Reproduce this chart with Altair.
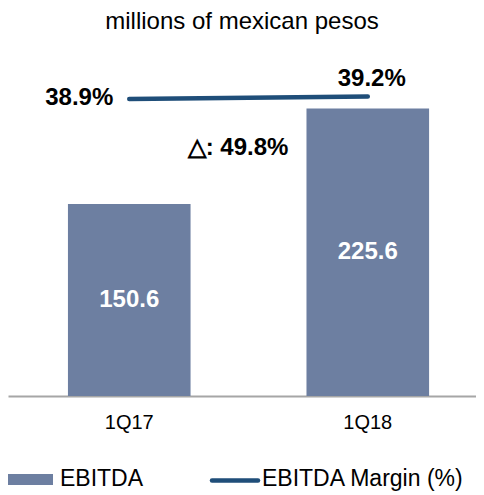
import altair as alt
import pandas as pd

quarters = ["1Q17", "1Q18"]
ebitda = [150.6, 225.6]
ebitda_labels = ["150.6", "225.6"]
margin = [38.9, 39.2]
margin_labels = ["38.9%", "39.2%"]
growth_label = "△: 49.8%"
growth_pos = [195]
legend_names = ["EBITDA", "EBITDA Margin (%)"]
title_text = "millions of mexican pesos"

BAR = "#6d7fa1"
LINE = "#1f4e79"
FONT = "Liberation Sans"

df = pd.DataFrame({
    "quarter": quarters,
    "ebitda": ebitda,
    "ebitda_label": ebitda_labels,
    "margin": margin,
    "margin_label": margin_labels,
})

x_enc = alt.X(
    "quarter:N",
    sort=quarters,
    scale=alt.Scale(paddingInner=0.486, paddingOuter=0.224, align=0.561),
    axis=alt.Axis(
        title=None, labelAngle=0, ticks=False, grid=False,
        domainColor="#a6a6a6", domainWidth=2,
        labelFont=FONT, labelFontSize=20, labelColor="black", labelPadding=16,
    ),
)
bar_scale = alt.Scale(domain=[0, 279.4])
line_scale = alt.Scale(domain=[1.775, 46.275])

base = alt.Chart(df)

bars = base.mark_bar(color=BAR).encode(
    x=x_enc, y=alt.Y("ebitda:Q", scale=bar_scale, axis=None)
)

bar_labels = base.transform_calculate(mid="datum.ebitda / 2").mark_text(
    font=FONT, fontSize=24, fontWeight="bold", color="white", baseline="middle"
).encode(
    x=x_enc, y=alt.Y("mid:Q", scale=bar_scale, axis=None), text="ebitda_label:N"
)

delta = alt.Chart(pd.DataFrame({"label": [growth_label], "pos": growth_pos})).mark_text(
    font=FONT, fontSize=24, fontWeight="bold", color="black", baseline="middle", align="center"
).encode(
    x=alt.value(230), y=alt.Y("pos:Q", scale=bar_scale, axis=None), text="label:N"
)

line = base.mark_line(color=LINE, strokeWidth=4.5, strokeCap="round").encode(
    x=x_enc, y=alt.Y("margin:Q", scale=line_scale, axis=None)
)

lab_left = base.transform_filter(alt.datum.quarter == quarters[0]).mark_text(
    font=FONT, fontSize=24, fontWeight="bold", color="black",
    align="right", baseline="middle", dx=-16, dy=-1.5,
).encode(x=x_enc, y=alt.Y("margin:Q", scale=line_scale, axis=None), text="margin_label:N")

lab_right = base.transform_filter(alt.datum.quarter == quarters[1]).mark_text(
    font=FONT, fontSize=24, fontWeight="bold", color="black",
    align="center", baseline="middle", dx=4, dy=-18,
).encode(x=x_enc, y=alt.Y("margin:Q", scale=line_scale, axis=None), text="margin_label:N")

# manual legend
leg_bar = alt.Chart(pd.DataFrame({"n": [legend_names[0]]})).mark_rect(color=BAR).encode(
    x=alt.value(0), x2=alt.value(45), y=alt.value(434), y2=alt.value(445)
)
leg_bar_text = alt.Chart(pd.DataFrame({"n": [legend_names[0]]})).mark_text(
    font=FONT, fontSize=23, color="black", align="left", baseline="middle"
).encode(x=alt.value(52), y=alt.value(439), text="n:N")
leg_line = alt.Chart(pd.DataFrame({"n": [legend_names[1]]})).mark_rule(
    color=LINE, strokeWidth=4.5, strokeCap="round"
).encode(x=alt.value(204), x2=alt.value(250), y=alt.value(440.5))
leg_line_text = alt.Chart(pd.DataFrame({"n": [legend_names[1]]})).mark_text(
    font=FONT, fontSize=23, color="black", align="left", baseline="middle"
).encode(x=alt.value(254), y=alt.value(439), text="n:N")

chart = alt.layer(
    bars, bar_labels, delta, line, lab_left, lab_right,
    leg_bar, leg_bar_text, leg_line, leg_line_text,
).resolve_scale(y="independent").properties(
    width=468, height=356,
    title=alt.TitleParams(
        title_text, font=FONT, fontSize=24, fontWeight="normal", color="black",
        anchor="middle", baseline="alphabetic", offset=-13,
    ),
    autosize=alt.AutoSizeParams(type="none"),
    padding={"left": 0, "top": 32, "right": 0, "bottom": 99},
).configure_view(stroke=None)

chart.save("out.html", embed_options={"renderer": "svg", "actions": False})
